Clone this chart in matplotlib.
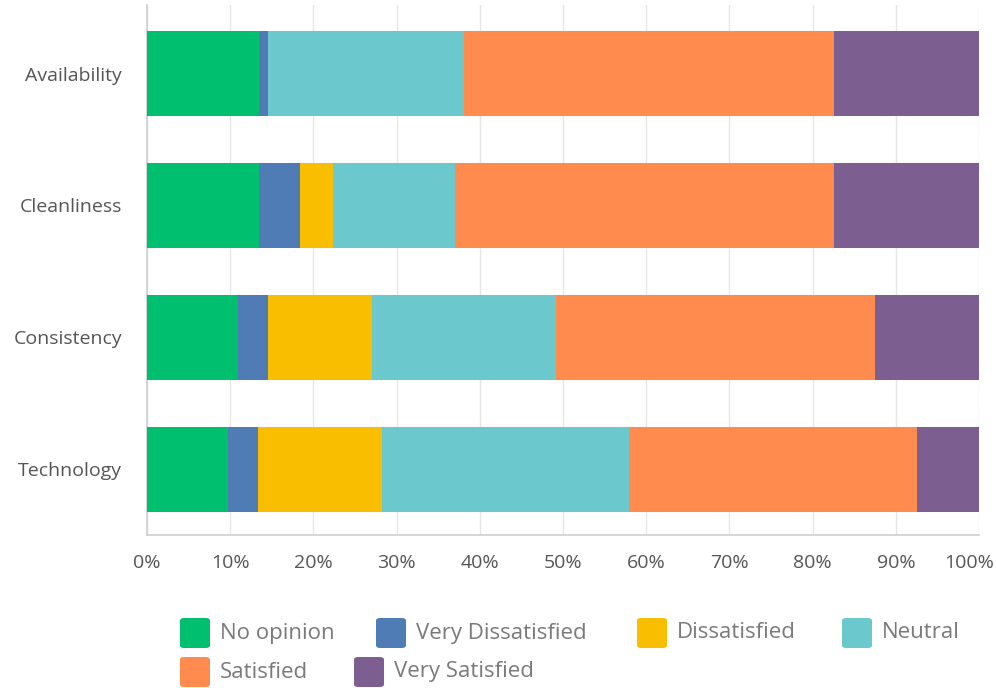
import matplotlib
matplotlib.use("Agg")
import matplotlib.pyplot as plt
from matplotlib.patches import FancyBboxPatch
from matplotlib.transforms import ScaledTranslation

plt.rcParams['font.family'] = ['Open Sans', 'DejaVu Sans']

# survey topics, top to bottom
categories = ['Availability', 'Cleanliness', 'Consistency', 'Technology']

# answer shares in percent, one list per response option
no_opinion = [13.4, 13.4, 10.9, 9.7]
very_dissatisfied = [1.2, 5.0, 3.6, 3.6]
dissatisfied = [0.0, 3.9, 12.5, 14.9]
neutral = [23.5, 14.7, 22.1, 29.7]
satisfied = [44.5, 45.6, 38.4, 34.6]
very_satisfied = [17.4, 17.4, 12.5, 7.5]

series = ['No opinion', 'Very Dissatisfied', 'Dissatisfied', 'Neutral',
          'Satisfied', 'Very Satisfied']
values = [no_opinion, very_dissatisfied, dissatisfied, neutral,
          satisfied, very_satisfied]
colors = ['#00bf6f', '#507cb6', '#f9be00', '#6bc8cd', '#ff8b4f', '#7d5e90']

text_col = '#555555'
grid_col = '#e6e6e6'

fig = plt.figure(figsize=(9.96, 6.88), dpi=100)
ax = fig.add_axes([0.1476, 0.2224, 0.8354, 0.7703])

y = list(range(len(categories)))
left = [0.0] * len(categories)
for name, vals, col in zip(series, values, colors):
    ax.barh(y, vals, left=left, height=0.645, color=col, label=name, zorder=3)
    left = [l + v for l, v in zip(left, vals)]

ax.set_xlim(0, 100)
ax.set_ylim(3.5, -0.52)
ax.set_xticks(range(0, 101, 10))
ax.set_xticklabels([f'{t}%' for t in range(0, 101, 10)])
ax.set_yticks(y)
ax.set_yticklabels(categories)
ax.tick_params(axis='x', length=0, pad=14, labelsize=14, labelcolor=text_col)
ax.tick_params(axis='y', length=0, pad=18, labelsize=14, labelcolor=text_col)
ax.grid(axis='x', color=grid_col, linewidth=1, zorder=0)
for s in ['top', 'right']:
    ax.spines[s].set_visible(False)
for s in ['left', 'bottom']:
    ax.spines[s].set_color('#cfcfcf')
    ax.spines[s].set_linewidth(1.2)

# keep the 100% label inside the canvas
last = ax.get_xticklabels()[-1]
last.set_transform(last.get_transform() + ScaledTranslation(-10 / 100, 0, fig.dpi_scale_trans))

# legend drawn as rounded swatches laid out in a flowing two-row block
W, H = fig.get_size_inches() * fig.dpi
rows = [
    [(0, 180), (1, 376), (2, 637), (3, 842)],
    [(4, 180), (5, 354)],
]
row_y = [633, 672]
sw = 30
for r, items in enumerate(rows):
    cy = row_y[r]
    for idx, x0 in items:
        box = FancyBboxPatch((x0 / W, (H - cy - sw / 2) / H), sw / W, sw / H,
                             boxstyle='round,pad=0,rounding_size=0.004',
                             transform=fig.transFigure, facecolor=colors[idx],
                             edgecolor='none')
        fig.patches.append(box)
        fig.text((x0 + sw + 10) / W, (H - cy) / H, series[idx],
                 fontsize=16, color='#7a7a7a', va='center', ha='left')

fig.savefig('out.png', dpi=100)
